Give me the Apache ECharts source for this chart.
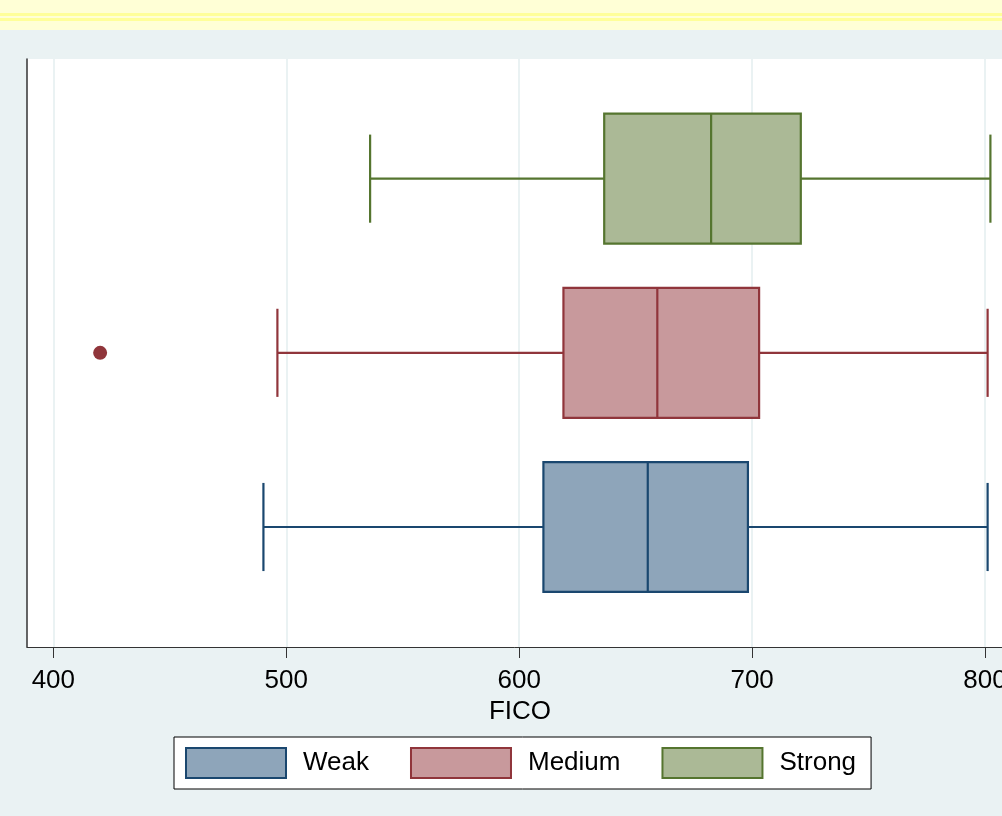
<!DOCTYPE html>
<html>
<head>
<meta charset="utf-8">
<style>
  html, body { margin: 0; padding: 0; background: #EAF2F3; }
  #chart { width: 1002px; height: 816px; }
</style>
<script src="https://cdn.jsdelivr.net/npm/echarts@6/dist/echarts.min.js"></script>
</head>
<body>
<div id="chart"></div>
<script>
// FICO score distribution by group (box plot summary statistics)
const categories = ['Weak', 'Medium', 'Strong'];
const lowerWhisker = [490.2, 496.2, 536.0];
const lowerQuartile = [610.4, 619.0, 636.5];
const medianValue = [655.2, 659.3, 682.4];
const upperQuartile = [698.2, 703.0, 720.9];
const upperWhisker = [801.1, 801.1, 802.3];
const outlierPoints = [[420.1, 'Medium']];
const xTickValues = [400, 500, 600, 700, 800];

const fills = ['#8EA5BA', '#C8999C', '#ABB996'];
const strokes = ['#1A476F', '#90353B', '#55752F'];

const BOX_HALF = 0.373;   // half box height, in category units
const CAP_HALF = 0.253;   // half whisker-cap height

function renderBox(params, api) {
  const c = api.value(0);
  const lo = api.value(1), q1 = api.value(2), md = api.value(3), q3 = api.value(4), hi = api.value(5);
  const stroke = strokes[c], fill = fills[c];
  const pLo = api.coord([lo, c]);
  const pQ1 = api.coord([q1, c]);
  const pMd = api.coord([md, c]);
  const pQ3 = api.coord([q3, c]);
  const pHi = api.coord([hi, c]);
  const yTop = api.coord([q1, c + BOX_HALF])[1];
  const yBot = api.coord([q1, c - BOX_HALF])[1];
  const capTop = api.coord([lo, c + CAP_HALF])[1];
  const capBot = api.coord([lo, c - CAP_HALF])[1];
  const lineStyle = { stroke: stroke, lineWidth: 2.2, fill: null };
  return {
    type: 'group',
    children: [
      { type: 'line', shape: { x1: pLo[0], y1: pLo[1], x2: pQ1[0], y2: pLo[1] }, style: lineStyle },
      { type: 'line', shape: { x1: pQ3[0], y1: pHi[1], x2: pHi[0], y2: pHi[1] }, style: lineStyle },
      { type: 'line', shape: { x1: pLo[0], y1: capTop, x2: pLo[0], y2: capBot }, style: lineStyle },
      { type: 'line', shape: { x1: pHi[0], y1: capTop, x2: pHi[0], y2: capBot }, style: lineStyle },
      { type: 'rect', shape: { x: pQ1[0], y: yTop, width: pQ3[0] - pQ1[0], height: yBot - yTop },
        style: { fill: fill, stroke: stroke, lineWidth: 2.2 } },
      { type: 'line', shape: { x1: pMd[0], y1: yTop, x2: pMd[0], y2: yBot }, style: lineStyle }
    ]
  };
}

const series = categories.map(function (name, i) {
  return {
    name: name,
    type: 'custom',
    renderItem: renderBox,
    itemStyle: { color: fills[i], borderColor: strokes[i], borderWidth: 2 },
    encode: { x: [1, 2, 3, 4, 5], y: 0 },
    data: [[i, lowerWhisker[i], lowerQuartile[i], medianValue[i], upperQuartile[i], upperWhisker[i]]],
    clip: false,
    z: 3
  };
});

series.push({
  name: 'Outliers',
  type: 'scatter',
  symbol: 'circle',
  symbolSize: 14,
  itemStyle: { color: '#90353B', opacity: 1 },
  data: outlierPoints.map(function (p) { return [p[0], categories.indexOf(p[1])]; }),
  z: 4
});

const chart = echarts.init(document.getElementById('chart'), null, { renderer: 'canvas' });
chart.setOption({
  animation: false,
  backgroundColor: '#EAF2F3',
  textStyle: { fontFamily: 'Liberation Sans, Arial, sans-serif' },
  graphic: [
    { type: 'rect', left: 0, top: 0, shape: { width: 1002, height: 30 }, style: { fill: '#FFFFD6' }, silent: true },
    { type: 'rect', left: 0, top: 13, shape: { width: 1002, height: 3 }, style: { fill: '#FFFF99' }, silent: true },
    { type: 'rect', left: 0, top: 18, shape: { width: 1002, height: 3 }, style: { fill: '#FFFF99' }, silent: true }
  ],
  grid: {
    left: 27, top: 59, width: 986, height: 588,
    outerBoundsMode: 'none',
    containLabel: false,
    show: true, backgroundColor: '#FFFFFF', borderWidth: 0
  },
  xAxis: {
    type: 'value',
    min: 388.7,
    max: 812,
    name: 'FICO',
    nameLocation: 'middle',
    nameGap: 44,
    nameTextStyle: { fontSize: 26, color: '#000', fontFamily: 'Liberation Sans, Arial, sans-serif' },
    axisLine: { show: true, onZero: false, lineStyle: { color: '#333', width: 1 } },
    axisTick: { show: true, length: 11, customValues: xTickValues, lineStyle: { color: '#333', width: 1 } },
    axisLabel: { customValues: xTickValues, fontSize: 26, color: '#000', margin: 21,
                 fontFamily: 'Liberation Sans, Arial, sans-serif' },
    splitLine: { show: true, lineStyle: { color: '#EAF2F3', width: 2 } }
  },
  yAxis: {
    type: 'value',
    min: -0.689,
    max: 2.687,
    axisLine: { show: true, onZero: false, lineStyle: { color: '#333', width: 1.5 } },
    axisTick: { show: false },
    axisLabel: { show: false },
    splitLine: { show: false }
  },
  legend: {
    data: categories.map(function (name, i) {
      return { name: name, icon: 'rect', itemStyle: { color: fills[i], borderColor: strokes[i], borderWidth: 2 } };
    }),
    orient: 'horizontal',
    left: 174,
    top: 737,
    itemWidth: 100,
    itemHeight: 30,
    itemGap: 41,
    padding: [10, 15, 10, 11],
    backgroundColor: '#FFFFFF',
    borderColor: '#000000',
    borderWidth: 1,
    borderRadius: 0,
    selectedMode: false,
    textStyle: { fontSize: 26, color: '#000', padding: [6, 0, 0, 12],
                 fontFamily: 'Liberation Sans, Arial, sans-serif' }
  },
  series: series
});
</script>
</body>
</html>
